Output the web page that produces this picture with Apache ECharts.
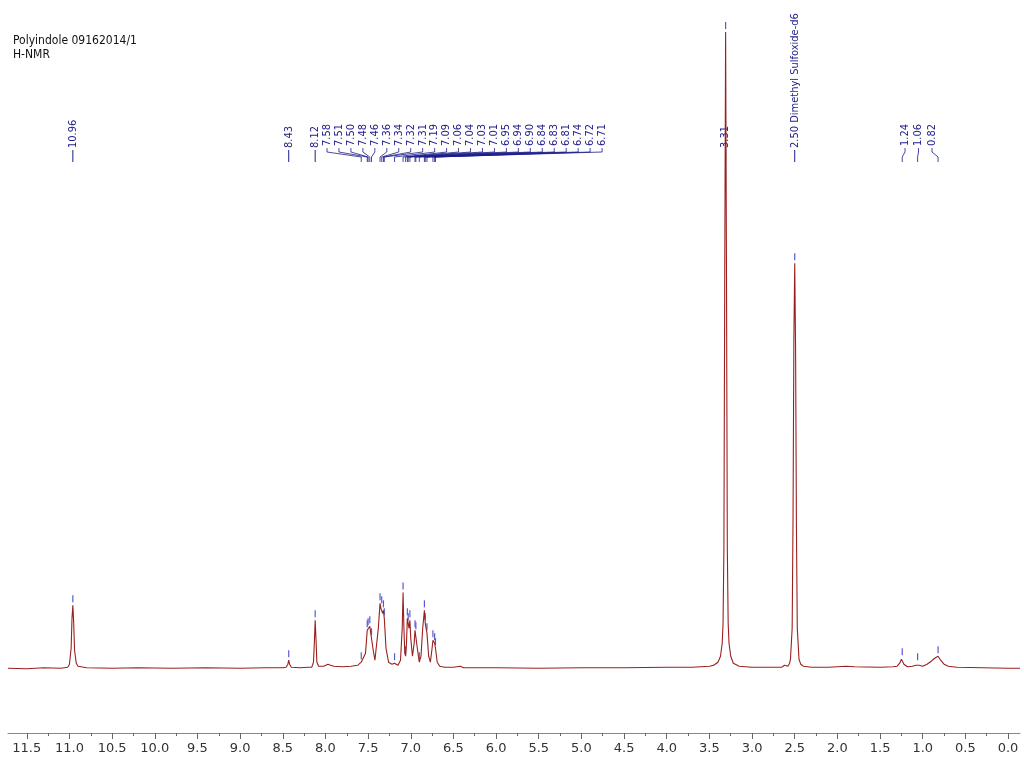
<!DOCTYPE html>
<html><head><meta charset="utf-8">
<script src="https://cdn.jsdelivr.net/npm/echarts@6/dist/echarts.min.js"></script>
<style>html,body{margin:0;padding:0;background:#fff}#c{width:1024px;height:759px}</style>
</head><body><div id="c"></div>
<script>
// spectrum trace: [ppm, intensity]
const spectrum = [
[11.72,0],[11.5,-0.5],[11.3,0.5],[11.1,0],[11.02,1],[11.0,4],[10.98,20],[10.97,50],[10.96,63],[10.95,45],[10.94,18],[10.92,5],[10.9,2],[10.8,0.5],
[10.5,0],[10.2,0.5],[9.8,0],[9.4,0.5],[9.0,0],[8.7,0.5],[8.5,0.5],[8.46,1],[8.44,4],[8.43,8],[8.42,4],[8.40,1],[8.3,0.5],[8.2,1],
[8.16,1],[8.14,6],[8.13,25],[8.12,48],[8.11,28],[8.10,6],[8.08,2],[8.02,2],[7.97,4],[7.94,3],[7.9,2],[7.8,1.5],[7.7,2],[7.62,3],[7.58,6],[7.56,5],
[7.53,15],[7.51,38],[7.50,40],[7.49,37],[7.48,42],[7.46,30],[7.44,18],[7.42,8],[7.40,10],[7.38,40],[7.36,65],[7.35,60],[7.34,62],[7.33,55],[7.32,58],[7.31,50],[7.29,20],[7.26,6],[7.22,4],[7.19,5],[7.15,3],
[7.12,8],[7.10,40],[7.09,76],[7.08,40],[7.07,15],[7.06,12],[7.05,25],[7.04,50],[7.03,45],[7.02,40],[7.01,48],[7.00,30],[6.98,12],[6.96,25],[6.95,38],[6.94,36],[6.92,18],[6.90,6],
[6.88,12],[6.86,40],[6.84,58],[6.83,45],[6.81,35],[6.79,12],[6.77,6],[6.75,20],[6.74,28],[6.72,25],[6.71,20],[6.69,6],[6.66,2],[6.6,1],[6.5,1],[6.42,2],[6.38,0.5],
[6.0,0.5],[5.5,0],[5.0,0.5],[4.5,0.5],[4.0,1],[3.7,1],[3.5,2],[3.45,3],[3.40,6],[3.37,12],[3.35,25],[3.34,45],[3.33,120],[3.32,400],[3.31,638],[3.30,400],[3.29,120],[3.28,45],[3.27,25],[3.25,12],[3.22,5],[3.15,2],[3.0,1],[2.8,1],
[2.65,1],[2.62,3],[2.60,4],[2.58,2],[2.56,5],[2.55,9],[2.53,40],[2.52,150],[2.51,330],[2.50,406],[2.49,320],[2.48,140],[2.47,40],[2.45,9],[2.43,4],[2.40,2],[2.3,1],
[2.1,1],[1.9,2],[1.8,1.5],[1.5,1],[1.35,1.5],[1.3,2],[1.27,5],[1.25,9],[1.24,10],[1.23,8],[1.22,4],[1.18,1.5],[1.12,2],[1.08,3],[1.06,5],[1.04,3],[1.0,2],[0.95,4],[0.9,7],[0.86,10],[0.84,12],[0.82,12],[0.79,8],[0.75,4],[0.7,2],[0.6,1],[0.3,0.5],[0.0,0],[-0.14,0]
];
// peak labels
const peakPpm = [10.96,8.43,8.12,7.58,7.51,7.50,7.48,7.46,7.36,7.34,7.32,7.31,7.19,7.09,7.06,7.04,7.03,7.01,6.95,6.94,6.90,6.84,6.83,6.81,6.74,6.72,6.71,3.31,2.50,1.24,1.06,0.82];
const peakHeight = [63,8,48,6,38,40,42,30,65,62,58,50,5,76,12,50,45,48,38,36,6,58,45,35,28,25,20,638,406,10,5,12];
const peakGroup = [0,0,0,1,1,1,1,1,1,1,1,1,1,1,1,1,1,1,1,1,1,1,1,1,1,1,1,0,0,2,2,2];
const peakText = ['10.96','8.43','8.12','7.58','7.51','7.50','7.48','7.46','7.36','7.34','7.32','7.31','7.19','7.09','7.06','7.04','7.03','7.01','6.95','6.94','6.90','6.84','6.83','6.81','6.74','6.72','6.71','3.31','2.50 Dimethyl Sulfoxide-d6','1.24','1.06','0.82'];
const majorTicks = [0,0.5,1,1.5,2,2.5,3,3.5,4,4.5,5,5.5,6,6.5,7,7.5,8,8.5,9,9.5,10,10.5,11,11.5];
const minorTicks = [0.25,0.75,1.25,1.75,2.25,2.75,3.25,3.75,4.25,4.75,5.25,5.75,6.25,6.75,7.25,7.75,8.25,8.75,9.25,9.75,10.25,10.75,11.25];

const labelData = peakPpm.map((p,i)=>[p,peakHeight[i],peakGroup[i],i]);
const groupStart = {1:peakGroup.indexOf(1),2:peakGroup.indexOf(2)};
const col='#1c1c8a';
const lblFont="'Liberation Sans Narrow','DejaVu Sans Condensed',sans-serif";
const chart = echarts.init(document.getElementById('c'));
chart.setOption({
  animation:false,
  grid:{left:8,right:4,top:30,bottom:26},
  title:{text:'Polyindole 09162014/1\nH-NMR',left:8,top:29,textStyle:{fontSize:12,fontWeight:'normal',color:'#111',fontFamily:'DejaVu Sans Condensed',lineHeight:14}},
  xAxis:[
   {type:'value',inverse:true,min:-0.14,max:11.72,
    axisLine:{onZero:false,lineStyle:{color:'#888'}},
    axisTick:{customValues:majorTicks,length:6,lineStyle:{color:'#666'}},
    axisLabel:{customValues:majorTicks,formatter:v=>v.toFixed(1),fontSize:13,color:'#333',fontFamily:'DejaVu Sans',margin:9},
    splitLine:{show:false}},
   {type:'value',inverse:true,min:-0.14,max:11.72,position:'bottom',
    axisLine:{show:false,onZero:false},axisTick:{customValues:minorTicks,length:3,lineStyle:{color:'#666'}},
    axisLabel:{show:false},splitLine:{show:false}}
  ],
  yAxis:{type:'value',min:-65,max:640,show:false},
  series:[
   {type:'line',data:spectrum,showSymbol:false,lineStyle:{color:'#9a1f1f',width:1.1},silent:true},
   {type:'custom',data:labelData,silent:true,
    renderItem:function(params,api){
      const ppm=api.value(0),h=api.value(1),g=api.value(2),i=api.value(3);
      const pk=api.coord([ppm,h]);
      let lx;
      if(g===0) lx=pk[0];
      else if(g===1) lx=327+11.96*(i-groupStart[1]);
      else lx=905+13.5*(i-groupStart[2]);
      const ch=[];
      if(g===0){
        ch.push({type:'line',shape:{x1:lx,y1:150,x2:lx,y2:162},style:{stroke:col,lineWidth:1}});
      } else {
        ch.push({type:'polyline',shape:{points:[[lx,148],[lx,152],[pk[0],157],[pk[0],162]]},style:{stroke:col,fill:null,lineWidth:0.8}});
      }
      ch.push({type:'text',x:lx,y:g===0?148:146,rotation:Math.PI/2,
        style:{text:peakText[i],fill:col,fontSize:11,fontFamily:lblFont,align:'left',verticalAlign:'middle'}});
      ch.push({type:'line',shape:{x1:pk[0],y1:pk[1]-3,x2:pk[0],y2:pk[1]-10},style:{stroke:'#5a5ad0',lineWidth:1.2}});
      return {type:'group',children:ch};
    }}
  ]
});
</script></body></html>
